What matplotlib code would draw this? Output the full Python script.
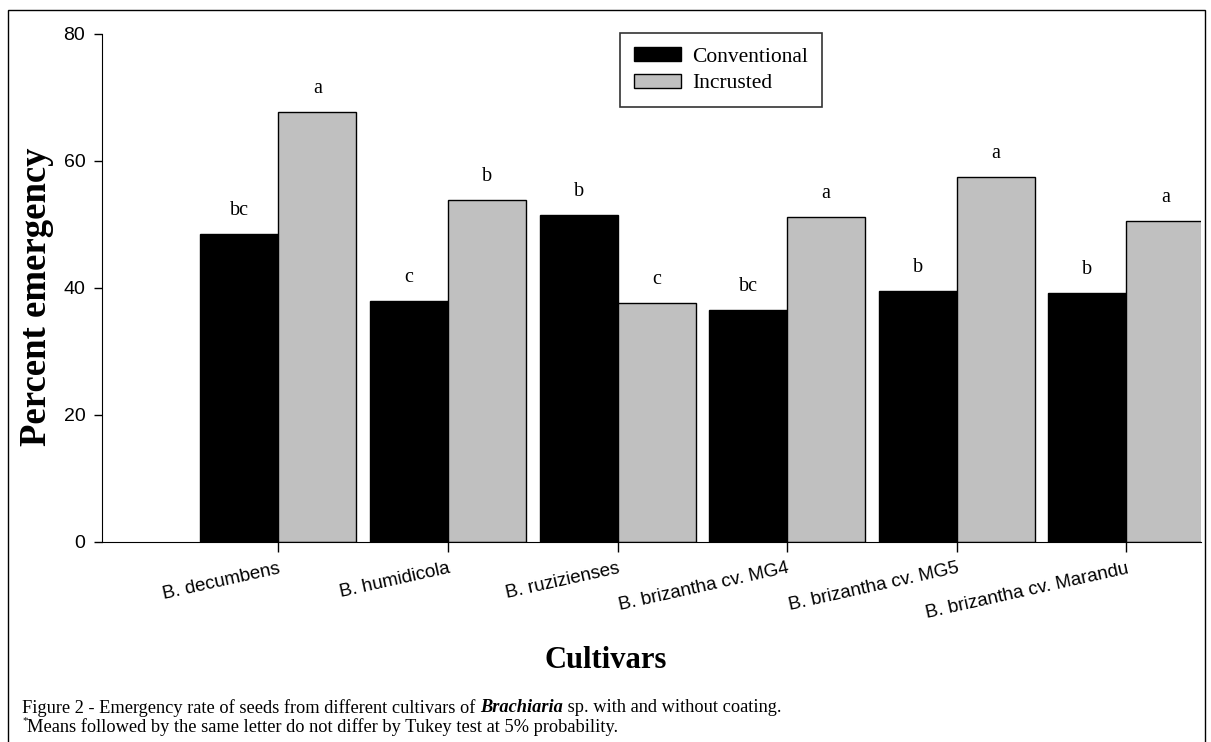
import numpy as np
import matplotlib
matplotlib.use("Agg")
import matplotlib.pyplot as plt
from matplotlib.patches import Rectangle, Patch

# data
cultivars = ["B. decumbens", "B. humidicola", "B. ruzizienses",
             "B. brizantha cv. MG4", "B. brizantha cv. MG5", "B. brizantha cv. Marandu"]
conventional = [48.5, 38.0, 51.5, 36.5, 39.5, 39.2]
incrusted = [67.7, 53.9, 37.6, 51.2, 57.5, 50.5]
letters_conv = ["bc", "c", "b", "bc", "b", "b"]
letters_inc = ["a", "b", "c", "a", "a", "a"]

W, H = 1211, 742
fig = plt.figure(figsize=(W / 100, H / 100), dpi=100)
ax = fig.add_axes([102 / W, 1 - 542 / H, (1201 - 102) / W, (542 - 34) / H])

x = np.arange(len(cultivars))
bw = 0.46
ax.bar(x - bw / 2, conventional, bw, color="black", edgecolor="black", linewidth=1)
ax.bar(x + bw / 2, incrusted, bw, color="#c0c0c0", edgecolor="black", linewidth=1)

# Tukey letters
for xi, v, t in zip(x, conventional, letters_conv):
    ax.text(xi - bw / 2, v + 2.2, t, ha="center", va="bottom",
            family="Liberation Serif", fontsize=14.5)
for xi, v, t in zip(x, incrusted, letters_inc):
    ax.text(xi + bw / 2, v + 2.2, t, ha="center", va="bottom",
            family="Liberation Serif", fontsize=14.5)

ax.set_xlim(-1.04, 5.44)
ax.set_ylim(0, 80)
ax.set_yticks([0, 20, 40, 60, 80])
ax.set_xticks(x)
ax.set_xticklabels(cultivars, rotation=12.5, ha="right", rotation_mode="anchor",
                   family="Liberation Sans", fontsize=13.5)
for lab in ax.get_yticklabels():
    lab.set_family("Liberation Sans")
    lab.set_fontsize(14)
ax.tick_params(axis="y", length=6, width=1, pad=6)
ax.tick_params(axis="x", length=7, width=1, pad=6)
ax.spines["top"].set_visible(False)
ax.spines["right"].set_visible(False)

fig.text(37 / W, 1 - 297 / H, "Percent emergency", rotation=90, ha="center", va="center",
         family="Liberation Serif", fontweight="bold", fontsize=26.5)
fig.text(606 / W, 1 - 660 / H, "Cultivars", ha="center", va="center",
         family="Liberation Serif", fontweight="bold", fontsize=22)

handles = [Patch(facecolor="black", edgecolor="black"),
           Patch(facecolor="#c0c0c0", edgecolor="black")]
leg = fig.legend(handles, ["Conventional", "Incrusted"], loc="upper left",
                 bbox_to_anchor=(620 / W, 1 - 33 / H), frameon=True, fancybox=False,
                 prop={"family": "Liberation Serif", "size": 15.5},
                 handlelength=2.2, handleheight=0.65, handletextpad=0.5,
                 labelspacing=0.32, borderpad=0.65, borderaxespad=0)
leg.get_frame().set_edgecolor("black")
leg.get_frame().set_linewidth(1.2)

# caption, with bold italic genus name
fig.canvas.draw()
r = fig.canvas.get_renderer()
cy = 1 - 708 / H
cap = {"family": "Liberation Serif", "fontsize": 13.2}
t1 = fig.text(22 / W, cy, "Figure 2 - Emergency rate of seeds from different cultivars of ",
              va="center", **cap)
x1 = t1.get_window_extent(r).x1 / W
t2 = fig.text(x1, cy, "Brachiaria", va="center", style="italic", fontweight="bold", **cap)
x2 = t2.get_window_extent(r).x1 / W
fig.text(x2, cy, " sp. with and without coating.", va="center", **cap)
fig.text(22 / W, 1 - 721 / H, "*", va="center", family="Liberation Serif", fontsize=8)
fig.text(27 / W, 1 - 727 / H, "Means followed by the same letter do not differ by Tukey test at 5% probability.",
         va="center", **cap)

# outer frame
fig.add_artist(Rectangle((8 / W, -0.05), (1205 - 8) / W, 1.05 - 10 / H,
                         transform=fig.transFigure, fill=False, edgecolor="black", linewidth=1))

fig.savefig("out.png", dpi=100)
